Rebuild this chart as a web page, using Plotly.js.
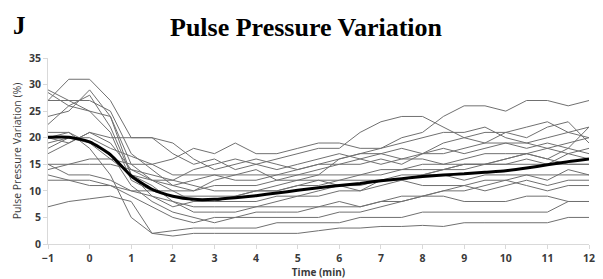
<!DOCTYPE html>
<html><head><meta charset="utf-8">
<script src="https://cdn.plot.ly/plotly-3.0.1.min.js"></script>
<style>html,body{margin:0;padding:0;background:#fff}#c{width:603px;height:279px}</style>
</head><body><div id="c"></div>
<script>
const time = [-1,-0.5,0,0.5,1,1.5,2,2.5,3,3.5,4,4.5,5,5.5,6,6.5,7,7.5,8,8.5,9,9.5,10,10.5,11,11.5,12];
const meanPPV = [20.1,20.1,19.2,16.8,12.8,10.3,9.0,8.4,8.4,8.7,9.1,9.6,10.1,10.6,11.0,11.4,11.9,12.3,12.7,13.0,13.2,13.5,13.8,14.3,14.9,15.5,16.0];
const p1  = [27,31,31,27,20,20,17,15,16,14,15,16,17,18,18,21,23,24,24,22,20,19,21,22,23,21,20];
const p2  = [29,27,25,24,15,12,10,8,8,9,10,11,12,13,16,17,18,20,21,24,26,26,25,27,27,26,27];
const p3  = [28.5,26,28,22,13,11,8,6,6,6,7,8,9,9,10,10,11,12,13,14,14,15,16,17,18,19,20];
const p4  = [27,27,27,25,17,14,11,10,12,13,14,12,13,14,15,15,16,15,17,18,17,18,19,18,19,18,17];
const p5  = [24,25,29,24,13,9,7,8,8,8,8,9,9,10,11,10,12,13,13,14,15,15,16,17,16,18,22];
const p6  = [22.5,26,25,21,12,10,9,9,9,9,10,10,11,12,12,13,13,14,14,14,15,15,15,16,15,17,16];
const p7  = [21,21,19,16,13,12,11,12,13,12,12,13,14,15,15,16,17,18,17,19,20,21,21,20,22,23,19];
const p8  = [19,20,20,18,16.5,15,16,18,17,19,17,17,18,19,19,18,18,19,20,21,21,22,20,19,18,17,18];
const p9  = [17,19,21,20,20,20,19,16,14,15,16,15,14,15,16,17,17,16,16,15,16,17,17,17,16,15,15];
const p10 = [15,15,16,16,15,15,13,13,13,13,13,13,13,13,13,13,14,14,15,15,15,15,15,15,15,15,15];
const p11 = [14,15,15,15,14,13,12,11,10,10,10,10,11,11,12,12,12,12,13,13,12,13,13,13,13,13,13];
const p12 = [13,12,12,11,9,7,5,4,5,5,6,6,6,7,8,7,8,9,9,10,11,10,11,12,11,12,12];
const p13 = [12,12,11,11,10,9,8,7,7,7,7,7,7,7,7,7,8,8,9,9,8,8,8,9,9,8,8];
const p14 = [7,8,8.5,9,8,2,1.5,2,2,2,2,2,2,2.5,3,3,3.3,3.3,3.5,3.3,4,4,4,4,4,5,5];
const p15 = [20,21,18,13,5,2,2.5,3,3,3,3,4,4,4,4,5,5,5,6,6,6,6,6,6,6,8,8];
const p16 = [18,20,19,17,11,8,6,5,4,5,5,5,5,5,6,6,7,8,9,10,10,11,12,13,12,14,13];
const p17 = [15,13,13,12,10,10,10,10,11,11,11,12,12,12,11,11,12,12,11,11,11,12,12,11,10,11,11];
const p18 = [20,19,21,19,14,12,12,14,15,16,15,14,15,16,17,16,15,16,17,17,18,19,19,19,20,21,22];
const patients = [p1,p2,p3,p4,p5,p6,p7,p8,p9,p10,p11,p12,p13,p14,p15,p16,p17,p18];

const traces = patients.map(p => ({x: time, y: p, type:'scatter', mode:'lines',
  line:{color:'#707070', width:1}, hoverinfo:'skip', showlegend:false}));
traces.push({x: time, y: meanPPV, type:'scatter', mode:'lines',
  line:{color:'#000', width:3, shape:'spline', smoothing:0.6}, showlegend:false});

const tickFont = {family:'Open Sans, Liberation Sans, sans-serif', size:10.5, color:'#3a3a3a', weight:'bold'};
const layout = {
  width:603, height:279, paper_bgcolor:'#fff', plot_bgcolor:'#fff',
  margin:{l:48, r:14, t:58, b:35},
  showlegend:false,
  xaxis:{range:[-1,12], tickvals:[-1,0,1,2,3,4,5,6,7,8,9,10,11,12], showgrid:false, zeroline:false,
    showline:true, linecolor:'#d9d9d9', linewidth:1, ticks:'outside', ticklen:4, tickcolor:'#d9d9d9',
    tickfont:tickFont, title:{text:'Time (min)', font:{family:'Open Sans, sans-serif', size:10, color:'#3a3a3a', weight:'bold'}, standoff:2}},
  yaxis:{range:[0,35], dtick:5, showgrid:false, zeroline:false,
    showline:true, linecolor:'#d9d9d9', linewidth:1, ticks:'outside', ticklen:4, tickcolor:'#d9d9d9',
    tickfont:tickFont, title:{text:'Pulse Pressure Variation (%)', font:{family:'Open Sans, sans-serif', size:10.5, color:'#3a3a3a'}, standoff:5}},
  annotations:[
    {text:'<b>Pulse Pressure Variation</b>', xref:'paper', yref:'paper', x:(306-48)/541, y:1, yshift:31, xanchor:'center', yanchor:'middle', showarrow:false,
      font:{family:'Liberation Serif, Times New Roman, serif', size:26, color:'#000'}},
    {text:'<b>J</b>', xref:'paper', yref:'paper', x:-(48-11)/541, y:1, yshift:33, xanchor:'left', yanchor:'middle', showarrow:false,
      font:{family:'Liberation Serif, Times New Roman, serif', size:25, color:'#000'}}
  ]
};
Plotly.newPlot('c', traces, layout, {staticPlot:true, displayModeBar:false});
</script></body></html>
